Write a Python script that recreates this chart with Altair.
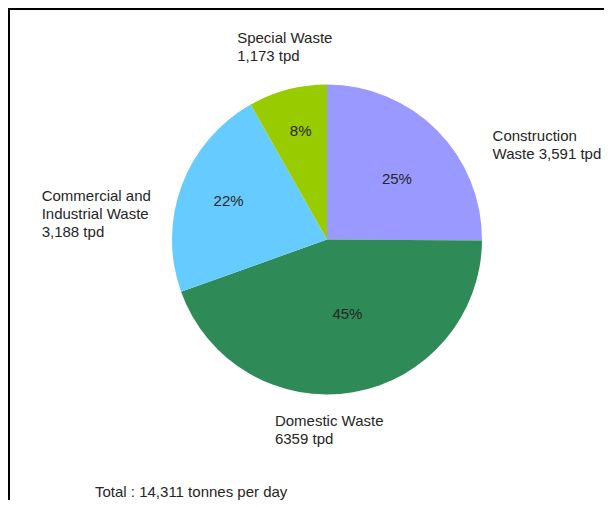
import altair as alt
import pandas as pd

# ---- data ----
categories = ["Construction Waste", "Domestic Waste",
              "Commercial and Industrial Waste", "Special Waste"]
values = [3591, 6359, 3188, 1173]
pct_labels = ["25%", "45%", "22%", "8%"]
label_lines = [
    ["Construction", "Waste 3,591 tpd"],
    ["Domestic Waste", "6359 tpd"],
    ["Commercial and", "Industrial Waste", "3,188 tpd"],
    ["Special Waste", "1,173 tpd"],
]
colors = ["#9999FF", "#2E8B57", "#66CCFF", "#99CC00"]

total = sum(values)
total_text = f"Total :  {total:,} tonnes per day"

df = pd.DataFrame({
    "idx": list(range(len(categories))),
    "cat": categories,
    "value": values,
    "pct": pct_labels,
    "label": ["\n".join(l) for l in label_lines],
})

# ---- styling / layout ----
W, H = 596, 492
CX, CY = 319, 231.5
R = 155
FONT = "Liberation Sans"
FS = 15
TC = "#262626"

theta_scale = alt.Scale(domain=[0, total])

pie = alt.Chart(df).mark_arc(radius=R).encode(
    theta=alt.Theta("value:Q", stack=True, scale=theta_scale),
    color=alt.Color("cat:N", scale=alt.Scale(domain=categories, range=colors), legend=None),
    order=alt.Order("idx:Q"),
    x=alt.value(CX),
    y=alt.value(CY),
)

base = alt.Chart(df).transform_window(
    cum="sum(value)", sort=[alt.SortField("idx")], frame=[None, 0]
).transform_calculate(mid="datum.cum - datum.value / 2")

# per-slice label placement styles (radius, dx, dy)
pct_style = [(92, 4.7, 4.3), (77, 7.5, -1.4), (105, 0, -1.9), (111, 1.9, -0.7)]
out_style = [(175, 41.5, 19.8), (175, -81.5, 8.7), (175, -121.3, 17.5), (175, -45.3, -32.5)]

layers = [pie]
for i in range(len(categories)):
    r, dx, dy = pct_style[i]
    layers.append(
        base.transform_filter(alt.datum.idx == i).mark_text(
            radius=r, dx=dx, dy=dy, font=FONT, fontSize=FS, color=TC,
            align="center", baseline="middle",
        ).encode(
            theta=alt.Theta("mid:Q", stack=False, scale=theta_scale),
            text="pct:N",
            x=alt.value(CX), y=alt.value(CY),
        )
    )
    r, dx, dy = out_style[i]
    layers.append(
        base.transform_filter(alt.datum.idx == i).mark_text(
            radius=r, dx=dx, dy=dy, font=FONT, fontSize=FS, color=TC,
            align="left", baseline="middle", lineBreak="\n", lineHeight=18,
        ).encode(
            theta=alt.Theta("mid:Q", stack=False, scale=theta_scale),
            text="label:N",
            x=alt.value(CX), y=alt.value(CY),
        )
    )

total_layer = alt.Chart(pd.DataFrame({"t": [total_text]})).mark_text(
    font=FONT, fontSize=FS, color=TC, align="left", baseline="middle"
).encode(text="t:N", x=alt.value(87), y=alt.value(484))

frame_top = alt.Chart(pd.DataFrame({"a": [0]})).mark_rule(color="black", strokeWidth=2).encode(
    x=alt.value(0), x2=alt.value(W + 10), y=alt.value(1))
frame_left = alt.Chart(pd.DataFrame({"a": [0]})).mark_rule(color="black", strokeWidth=2).encode(
    x=alt.value(1), y=alt.value(0), y2=alt.value(H + 10))

chart = alt.layer(*layers, total_layer, frame_top, frame_left).properties(
    width=W, height=H, padding=0, background="white",
    autosize=alt.AutoSizeParams(type="none"),
).configure_view(stroke=None)

chart.save("out.html", embed_options={"renderer": "svg", "actions": False})
